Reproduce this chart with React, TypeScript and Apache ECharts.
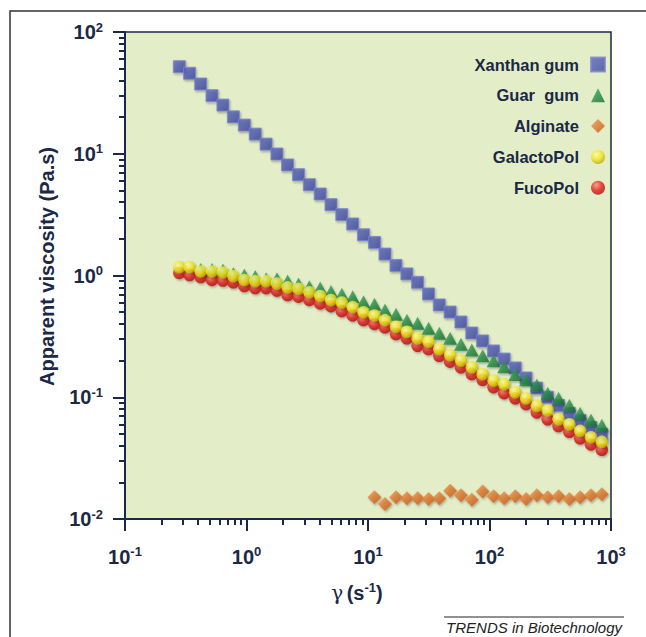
import React, { useEffect, useRef } from "react";
import * as echarts from "echarts";

// Shear rate grid (s^-1)
const shearRate = [0.28, 0.34, 0.42, 0.52, 0.64, 0.78, 0.96, 1.18, 1.45, 1.78, 2.18, 2.68, 3.29, 4.04, 4.96, 6.09, 7.48, 9.18, 11.3, 13.8, 17.0, 20.9, 25.6, 31.5, 38.6, 47.4, 58.2, 71.5, 87.8, 108, 132, 163, 200, 245, 301, 370, 454, 557, 684, 840];

// Apparent viscosity (Pa.s)
const xanthanGum = [51.9, 45.8, 37.4, 30.0, 25.1, 20.1, 17.2, 14.5, 12.0, 9.95, 8.09, 6.73, 5.57, 4.67, 3.82, 3.16, 2.65, 2.16, 1.87, 1.50, 1.21, 1.03, 0.879, 0.705, 0.573, 0.501, 0.415, 0.337, 0.290, 0.240, 0.206, 0.174, 0.144, 0.119, 0.100, 0.0857, 0.0736, 0.0645, 0.0566, 0.0497];
const guarGum = [null, null, 1.12, 1.12, 1.11, 1.04, 1.01, 0.98, 0.94, 0.94, 0.90, 0.85, 0.81, 0.79, 0.74, 0.70, 0.67, 0.61, 0.58, 0.52, 0.48, 0.43, 0.405, 0.368, 0.335, 0.305, 0.272, 0.244, 0.219, 0.199, 0.178, 0.154, 0.139, 0.126, 0.108, 0.098, 0.086, 0.074, 0.065, 0.059];
const alginate = [null, null, null, null, null, null, null, null, null, null, null, null, null, null, null, null, null, null, 0.0151, 0.0133, 0.0151, 0.0148, 0.0148, 0.0146, 0.0148, 0.0171, 0.0157, 0.0144, 0.0168, 0.0154, 0.0148, 0.0154, 0.0146, 0.0157, 0.0151, 0.0154, 0.0146, 0.0151, 0.0157, 0.0160];
const galactoPol = [1.17, 1.17, 1.08, 1.08, 1.06, 0.99, 0.92, 0.90, 0.90, 0.86, 0.80, 0.78, 0.73, 0.68, 0.63, 0.60, 0.55, 0.50, 0.47, 0.43, 0.38, 0.345, 0.305, 0.286, 0.249, 0.222, 0.200, 0.176, 0.155, 0.137, 0.128, 0.110, 0.098, 0.085, 0.078, 0.066, 0.060, 0.053, 0.047, 0.043];
const fucoPol = [1.05, 1.01, 0.97, 0.92, 0.91, 0.88, 0.82, 0.79, 0.79, 0.75, 0.69, 0.67, 0.63, 0.59, 0.56, 0.51, 0.47, 0.43, 0.40, 0.375, 0.33, 0.305, 0.265, 0.249, 0.219, 0.196, 0.176, 0.155, 0.139, 0.121, 0.108, 0.098, 0.088, 0.075, 0.066, 0.058, 0.052, 0.046, 0.041, 0.037];

const seriesNames = ["Xanthan gum", "Guar  gum", "Alginate", "GalactoPol", "FucoPol"];

// Axis ranges (log decades)
const xDecades = [-1, 3];
const yDecades = [-2, 2];

const NAVY = "#1b2846";
const FONT = "'Liberation Sans', Arial, Helvetica, sans-serif";

const pairs = (vals: (number | null)[]) =>
  shearRate.map((x, i) => (vals[i] == null ? null : [x, vals[i]])).filter((p) => p !== null);

const minorTicks = (lo: number, hi: number) => {
  const out: number[] = [];
  for (let d = lo; d < hi; d++) for (let k = 2; k <= 9; k++) out.push(d + Math.log10(k));
  return out;
};

const powLabel = (v: number) => `{b|10}{e|${Math.round(Math.log10(v))}}`;

const radial = (c0: string, c1: string, c2: string) => ({
  type: "radial",
  x: 0.38,
  y: 0.32,
  r: 0.72,
  colorStops: [
    { offset: 0, color: c0 },
    { offset: 0.55, color: c1 },
    { offset: 1, color: c2 },
  ],
});

const linear = (c0: string, c1: string) => ({
  type: "linear",
  x: 0,
  y: 0,
  x2: 1,
  y2: 1,
  colorStops: [
    { offset: 0, color: c0 },
    { offset: 1, color: c1 },
  ],
});

const shadow = {
  shadowBlur: 2,
  shadowColor: "rgba(0,0,0,0.35)",
  shadowOffsetX: 1,
  shadowOffsetY: 1.5,
};

const labelRich = {
  b: { fontSize: 20, fontWeight: "bold", color: NAVY, fontFamily: FONT },
  e: { fontSize: 13, fontWeight: "bold", color: NAVY, fontFamily: FONT, padding: [0, 0, 10, 0] },
};

export default function App() {
  const ref = useRef<HTMLDivElement>(null);
  useEffect(() => {
    if (!ref.current) return;
    const chart = echarts.init(ref.current, null, { renderer: "svg" });
    const gridBox = { left: 125, right: 35, top: 32, bottom: 118 };
    const option: any = {
      animation: false,
      backgroundColor: "#ffffff",
      grid: [
        {
          ...gridBox,
          show: true,
          backgroundColor: "#e3eec9",
          borderColor: NAVY,
          borderWidth: 1.5,
        },
        { ...gridBox, show: false },
      ],
      legend: {
        data: seriesNames,
        orient: "vertical",
        align: "right",
        right: 35,
        top: 51,
        itemWidth: 14,
        itemHeight: 14,
        itemGap: 13.8,
        selectedMode: false,
        textStyle: {
          fontSize: 16.5,
          fontWeight: "bold",
          color: NAVY,
          fontFamily: FONT,
          padding: [0, 7, 0, 0],
        },
      },
      xAxis: [
        {
          type: "log",
          logBase: 10,
          gridIndex: 0,
          min: Math.pow(10, xDecades[0]),
          max: Math.pow(10, xDecades[1]),
          position: "bottom",
          axisLine: { show: true, onZero: false, lineStyle: { color: NAVY, width: 2 } },
          axisTick: { show: true, length: 12, lineStyle: { color: NAVY, width: 2 } },
          splitLine: { show: false },
          axisLabel: { formatter: powLabel, rich: labelRich, margin: 26 },
          name: "{g|γ} {b|(s}{e|-1}{b|)}",
          nameLocation: "middle",
          nameGap: 62,
          nameTextStyle: {
            padding: [0, 22, 0, 0],
            rich: {
              g: { fontSize: 20, color: NAVY, fontFamily: "'DejaVu Serif', serif" },
              b: { fontSize: 20, fontWeight: "bold", color: NAVY, fontFamily: FONT },
              e: { fontSize: 13, fontWeight: "bold", color: NAVY, fontFamily: FONT, padding: [0, 0, 10, 0] },
            },
          },
        },
        {
          type: "value",
          gridIndex: 1,
          min: xDecades[0],
          max: xDecades[1],
          position: "bottom",
          axisLine: { show: false, onZero: false },
          axisLabel: { show: false },
          splitLine: { show: false },
          axisTick: {
            show: true,
            customValues: minorTicks(xDecades[0], xDecades[1]),
            length: 6,
            lineStyle: { color: NAVY, width: 2 },
          },
        },
      ],
      yAxis: [
        {
          type: "log",
          logBase: 10,
          gridIndex: 0,
          min: Math.pow(10, yDecades[0]),
          max: Math.pow(10, yDecades[1]),
          position: "left",
          axisLine: { show: true, onZero: false, lineStyle: { color: NAVY, width: 2 } },
          axisTick: { show: true, length: 12, lineStyle: { color: NAVY, width: 2 } },
          splitLine: { show: false },
          axisLabel: { formatter: powLabel, rich: labelRich, margin: 22 },
          name: "Apparent viscosity (Pa.s)",
          nameLocation: "middle",
          nameGap: 68,
          nameTextStyle: {
            fontSize: 20,
            fontWeight: "bold",
            color: NAVY,
            fontFamily: FONT,
            padding: [0, 0, 0, 18],
          },
        },
        {
          type: "value",
          gridIndex: 1,
          min: yDecades[0],
          max: yDecades[1],
          position: "left",
          axisLine: { show: false, onZero: false },
          axisLabel: { show: false },
          splitLine: { show: false },
          axisTick: {
            show: true,
            customValues: minorTicks(yDecades[0], yDecades[1]),
            length: 6,
            lineStyle: { color: NAVY, width: 2 },
          },
        },
      ],
      series: [
        {
          name: seriesNames[0],
          type: "scatter",
          xAxisIndex: 0,
          yAxisIndex: 0,
          symbol: "rect",
          symbolSize: 12,
          data: pairs(xanthanGum),
          itemStyle: { color: linear("#5d69c2", "#3a4598"), borderColor: "#7c86cf", borderWidth: 1, ...shadow },
        },
        {
          name: seriesNames[1],
          type: "scatter",
          xAxisIndex: 0,
          yAxisIndex: 0,
          symbol: "triangle",
          symbolSize: [14, 13],
          data: pairs(guarGum),
          itemStyle: { color: linear("#3fae5c", "#0f6a2a"), ...shadow },
        },
        {
          name: seriesNames[2],
          type: "scatter",
          xAxisIndex: 0,
          yAxisIndex: 0,
          symbol: "diamond",
          symbolSize: 14,
          data: pairs(alginate),
          itemStyle: { color: linear("#f39a4a", "#c2500f"), ...shadow },
        },
        {
          name: seriesNames[4],
          type: "scatter",
          xAxisIndex: 0,
          yAxisIndex: 0,
          symbol: "circle",
          symbolSize: 12.5,
          data: pairs(fucoPol),
          itemStyle: { color: radial("#ff8a80", "#e31b17", "#a80a08"), ...shadow },
        },
        {
          name: seriesNames[3],
          type: "scatter",
          xAxisIndex: 0,
          yAxisIndex: 0,
          symbol: "circle",
          symbolSize: 12.5,
          data: pairs(galactoPol),
          itemStyle: { color: radial("#fffca0", "#efe41a", "#b8a800"), ...shadow },
        },
      ],
      graphic: [
        {
          type: "polyline",
          shape: { points: [[10, 637], [10, 11], [646, 11]] },
          style: { stroke: "#333333", lineWidth: 1.5, fill: "none" },
          silent: true,
        },
        {
          type: "line",
          shape: { x1: 444, y1: 617, x2: 624, y2: 617 },
          style: { stroke: "#222222", lineWidth: 1 },
          silent: true,
        },
        {
          type: "text",
          right: 24,
          top: 620,
          style: {
            text: "TRENDS in Biotechnology",
            fontSize: 15,
            fontStyle: "italic",
            fontFamily: FONT,
            fill: "#222222",
          },
          silent: true,
        },
      ],
    };
    chart.setOption(option);
    return () => chart.dispose();
  }, []);
  return (
    <div
      ref={ref}
      style={{ position: "fixed", left: 0, top: 0, width: 646, height: 637, background: "#ffffff" }}
    />
  );
}
